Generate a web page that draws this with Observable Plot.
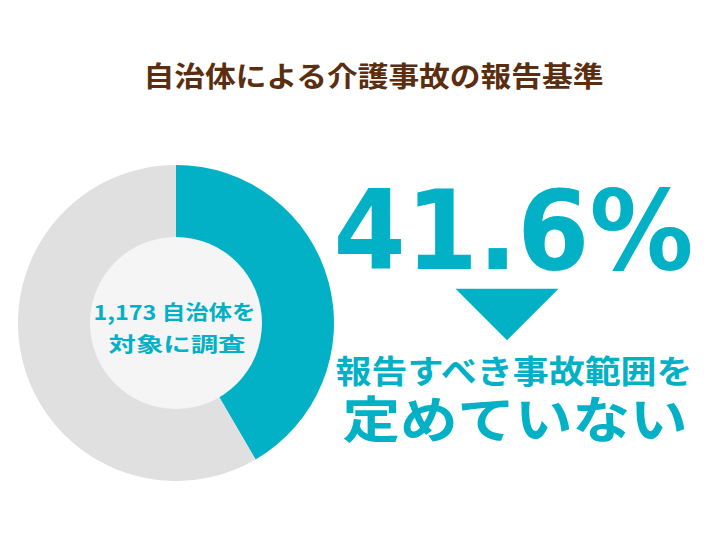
<!DOCTYPE html>
<html>
<head>
<meta charset="utf-8">
<script src="https://cdn.jsdelivr.net/npm/d3@7"></script>
<script src="https://cdn.jsdelivr.net/npm/@observablehq/plot@0.6"></script>
<style>
  html, body { margin: 0; padding: 0; background: #ffffff; }
  #chart svg { display: block; }
</style>
</head>
<body>
<div id="chart"></div>
<script>
// ---- data ----
const categories = ["定めていない", "その他"];
const shares = [41.6, 58.4];
const surveyedCount = 1173;
const titleText = "自治体による介護事故の報告基準";
const centerLines = [d3.format(",")(surveyedCount) + " 自治体を", "対象に調査"];
const headline = shares[0].toFixed(1) + "%";
const messageLines = ["報告すべき事故範囲を", "定めていない"];

// ---- styles / layout ----
const TEAL = "#02b1c6";
const RING_GRAY = "#e0e0e0";
const INNER_GRAY = "#f5f5f5";
const BROWN = "#5a2e0e";
const FONT = "'Noto Sans CJK JP', 'Noto Sans', sans-serif";
const NUM_FONT = "'DejaVu Sans', 'Noto Sans CJK JP', sans-serif";
const W = 726, H = 545;
const donut = {cx: 176, cy: 323, outer: 158, inner: 86};

const texts = [
  {text: titleText, x: 373, y: 77.5, size: 28, color: BROWN, len: 460, font: FONT},
  {text: centerLines[0], x: 174, y: 313.5, size: 20, color: TEAL, len: 162, font: FONT},
  {text: centerLines[1], x: 176.5, y: 345.5, size: 20, color: TEAL, len: 137, font: FONT},
  {text: headline, x: 513, y: 233, size: 110, color: TEAL, len: 360, font: NUM_FONT},
  {text: messageLines[0], x: 513.5, y: 372, size: 32, color: TEAL, len: 357, font: FONT},
  {text: messageLines[1], x: 514.5, y: 421, size: 50, color: TEAL, len: 345, font: FONT}
];

const pieData = d3.pie().sort(null).value(d => d.value)(
  categories.map((c, i) => ({category: c, value: shares[i]}))
);
const colorOf = {[categories[0]]: TEAL, [categories[1]]: RING_GRAY};

// down-pointing triangle symbol
const triangleDown = {
  draw(context, size) {
    const r = Math.sqrt(size / Math.PI);
    context.moveTo(-r, -r / 2);
    context.lineTo(r, -r / 2);
    context.lineTo(0, r / 2);
    context.closePath();
  }
};

function donutMark(index, scales) {
  const g = d3.create("svg:g");
  const cx = scales.x(donut.cx), cy = scales.y(donut.cy);
  const rOuter = scales.x(donut.cx + donut.outer) - cx;
  const rInner = scales.x(donut.cx + donut.inner) - cx;
  const arc = d3.arc().innerRadius(0).outerRadius(rOuter);
  g.selectAll("path.slice")
    .data(pieData)
    .join("path")
    .attr("class", "slice")
    .attr("transform", `translate(${cx},${cy})`)
    .attr("d", arc)
    .attr("fill", d => colorOf[d.data.category]);
  g.append("circle")
    .attr("cx", cx).attr("cy", cy).attr("r", rInner)
    .attr("fill", INNER_GRAY);
  return g.node();
}

const plot = Plot.plot({
  width: W,
  height: H,
  margin: 0,
  x: {domain: [0, W], range: [0, W], axis: null},
  y: {domain: [0, H], range: [0, H], axis: null},
  style: {fontFamily: FONT, background: "#ffffff"},
  marks: [
    donutMark,
    Plot.dot([{x: 506.5, y: 314}], {x: "x", y: "y", r: 51.5, symbol: triangleDown, fill: TEAL, stroke: null}),
    ...texts.map(t => Plot.text([t], {
      x: "x", y: "y", text: "text",
      fontSize: t.size, fontWeight: 700, fill: t.color, fontFamily: t.font,
      textAnchor: "middle"
    }))
  ]
});

d3.select(plot).selectAll("text").each(function () {
  const t = texts.find(d => d.text === this.textContent);
  if (t) {
    this.setAttribute("textLength", t.len);
    this.setAttribute("lengthAdjust", "spacingAndGlyphs");
  }
});

document.getElementById("chart").appendChild(plot);
</script>
</body>
</html>
